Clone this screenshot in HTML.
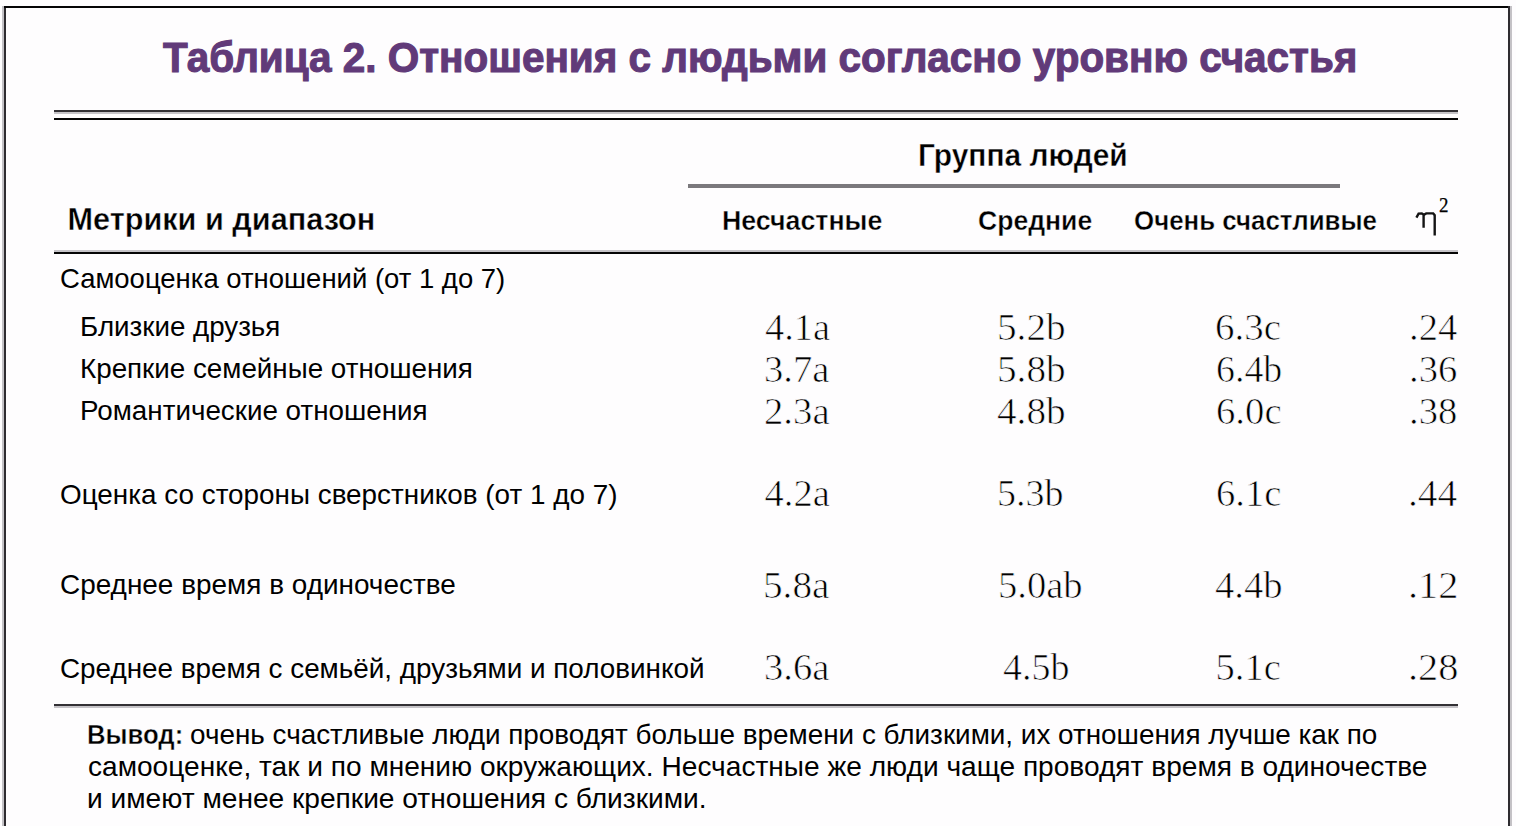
<!DOCTYPE html>
<html><head><meta charset="utf-8"><style>
html,body{margin:0;padding:0;}
body{width:1516px;height:826px;position:relative;overflow:hidden;background:#fefdfe;}
.t{position:absolute;white-space:nowrap;line-height:1;color:#000;transform-origin:0 0;}
.ln{position:absolute;}
</style></head><body>
<div class="ln" style="left:2px;top:6px;width:2px;height:820px;background:#c4c2c6"></div>
<div class="ln" style="left:4px;top:6px;width:2px;height:820px;background:#2e2c30"></div>
<div class="ln" style="left:4px;top:6px;width:1506px;height:2px;background:#050505"></div>
<div class="ln" style="left:1508px;top:6px;width:2px;height:820px;background:#2e2c30"></div>
<div class="ln" style="left:1510px;top:6px;width:2px;height:820px;background:#c4c2c6"></div>
<div class="ln" style="left:54px;top:110px;width:1404px;height:2px;background:#333135"></div>
<div class="ln" style="left:54px;top:112px;width:1404px;height:2px;background:#c6c4c8"></div>
<div class="ln" style="left:54px;top:118px;width:1404px;height:2px;background:#050505"></div>
<div class="ln" style="left:688px;top:184px;width:652px;height:4px;background:#7b797d"></div>
<div class="ln" style="left:54px;top:250px;width:1404px;height:2px;background:#c6c4c8"></div>
<div class="ln" style="left:54px;top:252px;width:1404px;height:2px;background:#050505"></div>
<div class="ln" style="left:54px;top:704px;width:1404px;height:2px;background:#333135"></div>
<div class="ln" style="left:54px;top:706px;width:1404px;height:2px;background:#c6c4c8"></div>
<svg style="position:absolute;left:1410px;top:192px" width="45" height="48" viewBox="1410 192 45 48"><path d="M1416.4 217.6 L1418.6 213.6 L1421.8 213.4 L1423.6 214.6 L1423.6 227.8" stroke="#141414" stroke-width="2.4" fill="none"/><path d="M1423.6 215 L1426.2 213.4 L1433.2 213.4 L1434.7 215.2 L1434.7 235.6" stroke="#141414" stroke-width="2.4" fill="none"/></svg>
<div class="t" id="title" style="left:162.51px;top:36.81px;font-size:42.15px;font-family:'Liberation Sans', sans-serif;font-weight:700;transform:scaleX(0.9599);color:#613a79;-webkit-text-stroke:1.1px #613a79;">Таблица 2. Отношения с людьми согласно уровню счастья</div>
<div class="t" id="group" style="left:918.07px;top:140.61px;font-size:30.96px;font-family:'Liberation Sans', sans-serif;font-weight:700;transform:scaleX(0.9671);-webkit-text-stroke:0.4px #fefdfe;">Группа людей</div>
<div class="t" id="metrics" style="left:67.50px;top:203.51px;font-size:30.67px;font-family:'Liberation Sans', sans-serif;font-weight:700;-webkit-text-stroke:0.4px #fefdfe;">Метрики и диапазон</div>
<div class="t" id="c1" style="left:721.54px;top:207.01px;font-size:27.62px;font-family:'Liberation Sans', sans-serif;font-weight:700;transform:scaleX(0.9693);-webkit-text-stroke:0.4px #fefdfe;">Несчастные</div>
<div class="t" id="c2" style="left:978.04px;top:207.01px;font-size:27.62px;font-family:'Liberation Sans', sans-serif;font-weight:700;transform:scaleX(0.9624);-webkit-text-stroke:0.4px #fefdfe;">Средние</div>
<div class="t" id="c3" style="left:1134.06px;top:207.01px;font-size:27.62px;font-family:'Liberation Sans', sans-serif;font-weight:700;transform:scaleX(0.9377);-webkit-text-stroke:0.4px #fefdfe;">Очень счастливые</div>
<div class="t" id="sup" style="left:1439.00px;top:194.80px;font-size:20.69px;font-family:'Liberation Serif', serif;font-weight:400;transform:scaleX(0.9180);-webkit-text-stroke:0.25px #000;">2</div>
<div class="t" id="r1" style="left:59.97px;top:265.82px;font-size:27.04px;font-family:'Liberation Sans', sans-serif;font-weight:400;transform:scaleX(1.0166);">Самооценка отношений (от 1 до 7)</div>
<div class="t" id="r2" style="left:79.92px;top:313.70px;font-size:26.74px;font-family:'Liberation Sans', sans-serif;font-weight:400;transform:scaleX(1.0371);">Близкие друзья</div>
<div class="t" id="r3" style="left:79.91px;top:355.70px;font-size:26.74px;font-family:'Liberation Sans', sans-serif;font-weight:400;transform:scaleX(1.0390);">Крепкие семейные отношения</div>
<div class="t" id="r4" style="left:79.91px;top:397.61px;font-size:26.74px;font-family:'Liberation Sans', sans-serif;font-weight:400;transform:scaleX(1.0393);">Романтические отношения</div>
<div class="t" id="r5" style="left:59.96px;top:482.00px;font-size:26.89px;font-family:'Liberation Sans', sans-serif;font-weight:400;transform:scaleX(1.0366);">Оценка со стороны сверстников (от 1 до 7)</div>
<div class="t" id="r6" style="left:59.96px;top:571.71px;font-size:26.89px;font-family:'Liberation Sans', sans-serif;font-weight:400;transform:scaleX(1.0391);">Среднее время в одиночестве</div>
<div class="t" id="r7" style="left:59.96px;top:655.50px;font-size:26.89px;font-family:'Liberation Sans', sans-serif;font-weight:400;transform:scaleX(1.0362);">Среднее время с семьёй, друзьями и половинкой</div>
<div class="t" id="p1a" style="left:87.02px;top:721.60px;font-size:27.04px;font-family:'Liberation Sans', sans-serif;font-weight:700;transform:scaleX(0.9513);-webkit-text-stroke:0.4px #fefdfe;">Вывод:</div>
<div class="t" id="p1" style="left:189.65px;top:721.60px;font-size:27.04px;font-family:'Liberation Sans', sans-serif;font-weight:400;transform:scaleX(1.0308);">очень счастливые люди проводят больше времени с близкими, их отношения лучше как по</div>
<div class="t" id="p2" style="left:88.47px;top:753.71px;font-size:27.04px;font-family:'Liberation Sans', sans-serif;font-weight:400;transform:scaleX(1.0393);">самооценке, так и по мнению окружающих. Несчастные же люди чаще проводят время в одиночестве</div>
<div class="t" id="p3" style="left:87.41px;top:785.71px;font-size:27.04px;font-family:'Liberation Sans', sans-serif;font-weight:400;transform:scaleX(1.0406);">и имеют менее крепкие отношения с близкими.</div>
<div class="t" id="n00" style="left:764.50px;top:308.20px;font-size:38.59px;font-family:'Liberation Serif', serif;font-weight:400;transform:scaleX(0.9969);-webkit-text-stroke:0.7px #fefdfe;">4.1a</div>
<div class="t" id="n01" style="left:996.95px;top:308.20px;font-size:38.59px;font-family:'Liberation Serif', serif;font-weight:400;transform:scaleX(1.0159);-webkit-text-stroke:0.7px #fefdfe;">5.2b</div>
<div class="t" id="n02" style="left:1215.48px;top:308.20px;font-size:38.59px;font-family:'Liberation Serif', serif;font-weight:400;transform:scaleX(1.0099);-webkit-text-stroke:0.7px #fefdfe;">6.3c</div>
<div class="t" id="n03" style="left:1409.00px;top:308.20px;font-size:38.59px;font-family:'Liberation Serif', serif;font-weight:400;-webkit-text-stroke:0.7px #fefdfe;">.24</div>
<div class="t" id="n10" style="left:764.49px;top:350.20px;font-size:38.59px;font-family:'Liberation Serif', serif;font-weight:400;transform:scaleX(1.0001);-webkit-text-stroke:0.7px #fefdfe;">3.7a</div>
<div class="t" id="n11" style="left:996.95px;top:350.20px;font-size:38.59px;font-family:'Liberation Serif', serif;font-weight:400;transform:scaleX(1.0159);-webkit-text-stroke:0.7px #fefdfe;">5.8b</div>
<div class="t" id="n12" style="left:1215.55px;top:350.20px;font-size:38.59px;font-family:'Liberation Serif', serif;font-weight:400;transform:scaleX(0.9813);-webkit-text-stroke:0.7px #fefdfe;">6.4b</div>
<div class="t" id="n13" style="left:1409.00px;top:350.20px;font-size:38.59px;font-family:'Liberation Serif', serif;font-weight:400;-webkit-text-stroke:0.7px #fefdfe;">.36</div>
<div class="t" id="n20" style="left:764.49px;top:391.51px;font-size:38.59px;font-family:'Liberation Serif', serif;font-weight:400;transform:scaleX(1.0033);-webkit-text-stroke:0.7px #fefdfe;">2.3a</div>
<div class="t" id="n21" style="left:997.47px;top:391.51px;font-size:38.59px;font-family:'Liberation Serif', serif;font-weight:400;transform:scaleX(1.0157);-webkit-text-stroke:0.7px #fefdfe;">4.8b</div>
<div class="t" id="n22" style="left:1216.49px;top:391.51px;font-size:38.59px;font-family:'Liberation Serif', serif;font-weight:400;transform:scaleX(1.0034);-webkit-text-stroke:0.7px #fefdfe;">6.0c</div>
<div class="t" id="n23" style="left:1409.00px;top:391.51px;font-size:38.59px;font-family:'Liberation Serif', serif;font-weight:400;-webkit-text-stroke:0.7px #fefdfe;">.38</div>
<div class="t" id="n30" style="left:764.50px;top:473.51px;font-size:38.59px;font-family:'Liberation Serif', serif;font-weight:400;-webkit-text-stroke:0.7px #fefdfe;">4.2a</div>
<div class="t" id="n31" style="left:997.05px;top:473.51px;font-size:38.59px;font-family:'Liberation Serif', serif;font-weight:400;transform:scaleX(0.9841);-webkit-text-stroke:0.7px #fefdfe;">5.3b</div>
<div class="t" id="n32" style="left:1216.00px;top:473.51px;font-size:38.59px;font-family:'Liberation Serif', serif;font-weight:400;transform:scaleX(1.0001);-webkit-text-stroke:0.7px #fefdfe;">6.1c</div>
<div class="t" id="n33" style="left:1407.93px;top:473.51px;font-size:38.59px;font-family:'Liberation Serif', serif;font-weight:400;transform:scaleX(1.0227);-webkit-text-stroke:0.7px #fefdfe;">.44</div>
<div class="t" id="n40" style="left:762.95px;top:566.20px;font-size:38.59px;font-family:'Liberation Serif', serif;font-weight:400;transform:scaleX(1.0165);-webkit-text-stroke:0.7px #fefdfe;">5.8a</div>
<div class="t" id="n41" style="left:998.00px;top:566.20px;font-size:38.59px;font-family:'Liberation Serif', serif;font-weight:400;-webkit-text-stroke:0.7px #fefdfe;">5.0ab</div>
<div class="t" id="n42" style="left:1215.49px;top:566.20px;font-size:38.59px;font-family:'Liberation Serif', serif;font-weight:400;transform:scaleX(1.0001);-webkit-text-stroke:0.7px #fefdfe;">4.4b</div>
<div class="t" id="n43" style="left:1407.86px;top:566.20px;font-size:38.59px;font-family:'Liberation Serif', serif;font-weight:400;transform:scaleX(1.0465);-webkit-text-stroke:0.7px #fefdfe;">.12</div>
<div class="t" id="n50" style="left:764.00px;top:647.51px;font-size:38.59px;font-family:'Liberation Serif', serif;font-weight:400;transform:scaleX(1.0001);-webkit-text-stroke:0.7px #fefdfe;">3.6a</div>
<div class="t" id="n51" style="left:1003.02px;top:647.51px;font-size:38.59px;font-family:'Liberation Serif', serif;font-weight:400;transform:scaleX(0.9846);-webkit-text-stroke:0.7px #fefdfe;">4.5b</div>
<div class="t" id="n52" style="left:1215.50px;top:647.51px;font-size:38.59px;font-family:'Liberation Serif', serif;font-weight:400;-webkit-text-stroke:0.7px #fefdfe;">5.1c</div>
<div class="t" id="n53" style="left:1407.86px;top:647.51px;font-size:38.59px;font-family:'Liberation Serif', serif;font-weight:400;transform:scaleX(1.0465);-webkit-text-stroke:0.7px #fefdfe;">.28</div>
</body></html>
